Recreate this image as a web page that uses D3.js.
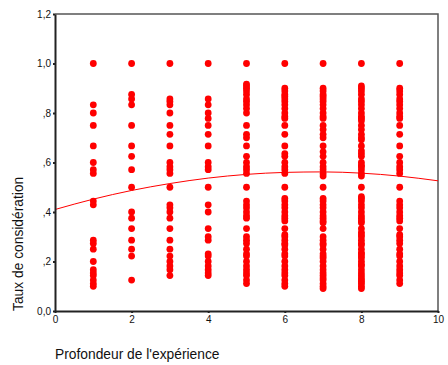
<!DOCTYPE html>
<html>
<head>
<meta charset="utf-8">
<script src="https://cdn.jsdelivr.net/npm/d3@7"></script>
<style>
  body { margin: 0; background: #fff; }
  text { font-family: "Liberation Sans", Arial, sans-serif; }
</style>
</head>
<body>
<svg id="chart" width="448" height="365"></svg>
<script>
// values: x = profondeur, y = taux (one list per column)
const col1 = [1, .833, .8, .75, .667, .6, .571, .556, .444, .429, .286, .273, .25, .2, .167, .154, .143, .125, .111, .1];
const col2 = [1, .875, .857, .833, .75, .667, .625, .571, .5, .4, .375, .333, .286, .25, .222, .125];
const col3 = [1, .857, .846, .833, .8, .75, .714, .667, .6, .583, .571, .556, .5, .429, .417, .4, .375, .333, .286, .25, .222, .2, .182, .167, .143];
const col4 = [1, .857, .833, .8, .778, .75, .714, .667, .6, .583, .571, .5, .429, .4, .333, .3, .286, .231, .222, .2, .182, .167, .154, .143];
const col5 = [1, .917, .909, .9, .889, .875, .857, .846, .833, .818, .8, .75, .714, .7, .667, .625, .6, .583, .571, .556, .5,
  .444, .429, .417, .4, .385, .375, .333, .3, .286, .273, .25, .231, .222, .2, .182, .167, .154, .143, .125, .111];
const col6 = [1, .9, .889, .875, .867, .857, .846, .833, .818, .8, .786, .778, .75, .714, .667, .636, .625, .6, .583, .571, .556, .5,
  .455, .444, .429, .417, .4, .385, .375, .364, .333, .308, .3, .286, .273, .267, .25, .231, .222, .2, .182, .167, .154, .143, .125, .111, .1];
const col7 = [1, .9, .889, .875, .867, .857, .846, .833, .818, .8, .786, .778, .75, .733, .714, .7, .667, .643, .625, .6, .583, .571, .556, .545, .5,
  .455, .444, .429, .417, .4, .385, .375, .364, .357, .333, .3, .286, .273, .267, .25, .231, .222, .214, .2, .182, .167, .154, .143, .133, .125, .111, .1, .091];
const col8 = [1, .909, .9, .889, .875, .857, .846, .833, .818, .8, .786, .778, .769, .75, .733, .714, .7, .692, .667, .647, .636, .625, .6, .588, .583, .571, .556, .545, .5,
  .462, .455, .444, .429, .417, .4, .385, .375, .364, .357, .333, .318, .308, .3, .286, .273, .267, .25, .235, .231, .222, .214, .2, .188, .182, .167, .154, .143, .133, .125, .118, .111, .1, .091];
const col9 = [1, .9, .889, .875, .857, .846, .833, .818, .8, .786, .778, .75, .714, .667, .625, .6, .583, .571, .556, .5,
  .444, .429, .417, .4, .385, .375, .364, .333, .308, .3, .286, .273, .25, .231, .222, .2, .182, .167, .154, .143, .125, .111];
const columns = [col1, col2, col3, col4, col5, col6, col7, col8, col9];

// fitted curve, read at each integer x
const fitX = [0, 1, 2, 3, 4, 5, 6, 7, 8, 9, 10];
const fitY = [.41, .452, .487, .515, .537, .552, .560, .562, .557, .545, .526];

const xTicks = [0, 2, 4, 6, 8, 10];
const yTicks = [0, .2, .4, .6, .8, 1, 1.2];
const yTickLabels = ["0,0", ",2", ",4", ",6", ",8", "1,0", "1,2"];

const svg = d3.select("#chart");

const x = d3.scaleLinear().domain([0, 10]).range([55, 438]);
const y = d3.scaleLinear().domain([0, 1.2]).range([311, 14]);

// frame top + right
svg.append("path")
  .attr("d", `M${x(0)},${y(1.2)}H${x(10)}V${y(0)}`)
  .attr("fill", "none")
  .attr("stroke", "#555")
  .attr("stroke-width", 1.5);

// fit line
const line = d3.line()
  .x((d, i) => x(fitX[i]))
  .y(d => y(d))
  .curve(d3.curveMonotoneX);

svg.append("path")
  .datum(fitY)
  .attr("d", line)
  .attr("fill", "none")
  .attr("stroke", "#ff0000")
  .attr("stroke-width", 1);

// points
const pts = [];
columns.forEach((col, i) => col.forEach(v => pts.push({ x: i + 1, y: v })));

svg.append("g").selectAll("circle")
  .data(pts)
  .enter()
  .append("circle")
  .attr("cx", d => x(d.x))
  .attr("cy", d => y(d.y))
  .attr("r", 3.4)
  .attr("fill", "#ff0000");

// axes
const yAxis = svg.append("g")
  .attr("transform", `translate(${x(0)},0)`)
  .call(d3.axisLeft(y).tickValues(yTicks).tickSize(2).tickSizeOuter(0)
    .tickFormat((d, i) => yTickLabels[i]));

const xAxis = svg.append("g")
  .attr("transform", `translate(0,${y(0)})`)
  .call(d3.axisBottom(x).tickValues(xTicks).tickSize(2).tickSizeOuter(0));

[yAxis, xAxis].forEach(g => {
  g.select(".domain").attr("stroke", "#222").attr("stroke-width", 2);
  g.selectAll(".tick line").attr("stroke", "#222").attr("stroke-width", 2);
  g.selectAll(".tick text")
    .attr("font-family", "Liberation Sans, Arial, sans-serif")
    .attr("font-size", 10)
    .attr("fill", "#111");
});
yAxis.selectAll(".tick text").attr("x", -4);
xAxis.selectAll(".tick text").attr("y", 5);

// titles
svg.append("text")
  .attr("x", 55)
  .attr("y", 359)
  .attr("font-size", 13.8)
  .attr("fill", "#111")
  .text("Profondeur de l'expérience");

svg.append("text")
  .attr("transform", "translate(23,311) rotate(-90)")
  .attr("font-size", 13.8)
  .attr("fill", "#111")
  .text("Taux de considération");
</script>
</body>
</html>
